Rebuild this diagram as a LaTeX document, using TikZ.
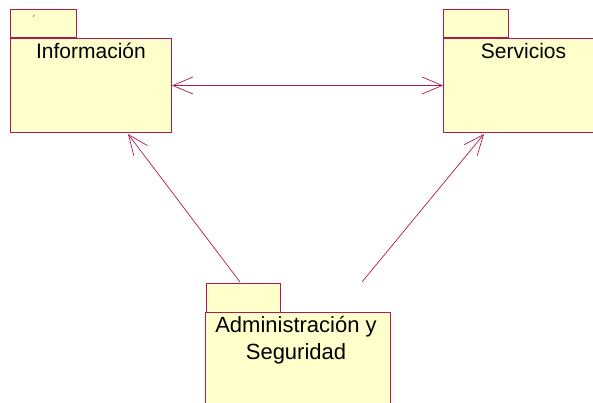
\documentclass[tikz,border=0pt]{standalone}
\usepackage{fontspec}
\setmainfont{Liberation Sans}
\usetikzlibrary{arrows.meta, positioning}
\definecolor{umlline}{RGB}{176,24,80}
\definecolor{umlfill}{RGB}{255,255,204}
\tikzstyle{pkgbody} = [
rectangle, draw=umlline, fill=umlfill, line width=1pt, anchor=north west,
inner sep=0pt
]
\tikzstyle{pkgtab} = [draw=umlline, fill=umlfill, line width=1pt]
\tikzstyle{pkgname} = [anchor=north, font=\fontsize{21}{25}\selectfont]
\tikzstyle{arrow} = [draw=umlline, line width=0.7pt, -{Straight Barb[length=20pt,width=17pt]}]
\tikzstyle{biarrow} = [draw=umlline, line width=0.7pt, {Straight Barb[length=20pt,width=17pt]}-{Straight Barb[length=20pt,width=17pt]}]

\begin{document}
\begin{tikzpicture}[x=1pt, y=-1pt]
	\useasboundingbox (0,0) rectangle (593,403);
	\clip (0,0) rectangle (593,403);
	% Paquetes
	\node (info) [pkgbody, minimum width=161pt, minimum height=94pt,
		label={[pkgname, yshift=-2pt]north:Información}] at (10,38) {};
	\draw [pkgtab] (info.north west) rectangle ++(66,-28);
	\node (acento) [font=\small] at (34,19) {´};
	\node (serv) [pkgbody, minimum width=160pt, minimum height=94pt,
		label={[pkgname, yshift=-2pt]north:Servicios}] at (443,38) {};
	\draw [pkgtab] (serv.north west) rectangle ++(65,-28);
	\node (admin) [pkgbody, minimum width=185pt, minimum height=110pt,
		label={[pkgname, xshift=-2pt, yshift=-1pt, align=center, font=\fontsize{22}{27}\selectfont]north:Administración y\\Seguridad}] at (205,312) {};
	\draw [pkgtab] ([xshift=1pt]admin.north west) rectangle ++(74,-29);

	% Puntos de las dependencias
	\coordinate (adminIzq) at (240,282);
	\coordinate (adminDer) at (362,282);
	\coordinate (infoAbajo) at (128,134);
	\coordinate (servAbajo) at (484,134);

	% Conexiones
	\draw [biarrow] (info.east) -- (serv.west);
	\draw [arrow] (adminIzq) -- (infoAbajo);
	\draw [arrow] (adminDer) -- (servAbajo);
\end{tikzpicture}
\end{document}
